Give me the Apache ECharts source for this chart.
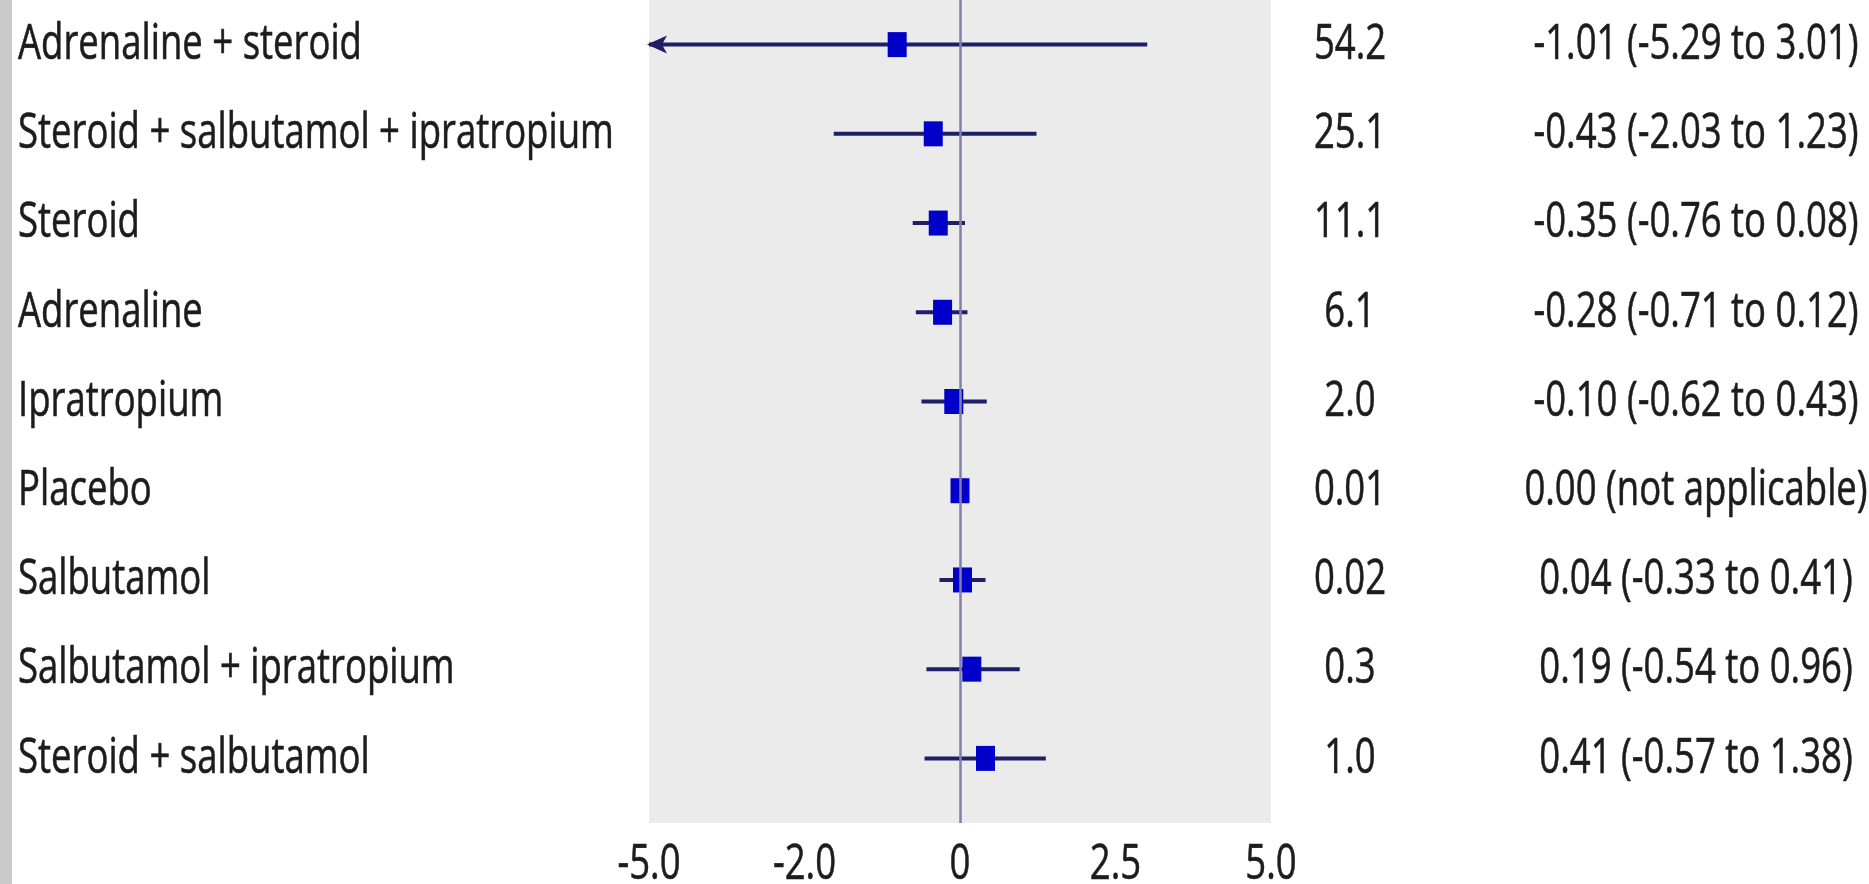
<!DOCTYPE html>
<html><head><meta charset="utf-8">
<script src="https://cdn.jsdelivr.net/npm/echarts@6/dist/echarts.min.js"></script>
<style>html,body{margin:0;padding:0;background:#fff}#c{width:1869px;height:884px}</style>
</head><body><div id="c"></div>
<script>
// ---- data ----
const categories = ['Adrenaline + steroid','Steroid + salbutamol + ipratropium','Steroid','Adrenaline','Ipratropium','Placebo','Salbutamol','Salbutamol + ipratropium','Steroid + salbutamol'];
const estimates = [-1.01, -0.43, -0.35, -0.28, -0.10, 0.00, 0.04, 0.19, 0.41];
const lowerCI = [-5.29, -2.03, -0.76, -0.71, -0.62, null, -0.33, -0.54, -0.57];
const upperCI = [3.01, 1.23, 0.08, 0.12, 0.43, null, 0.41, 0.96, 1.38];
const probabilities = ['54.2','25.1','11.1','6.1','2.0','0.01','0.02','0.3','1.0'];
const ciLabels = ['-1.01 (-5.29 to 3.01)','-0.43 (-2.03 to 1.23)','-0.35 (-0.76 to 0.08)','-0.28 (-0.71 to 0.12)','-0.10 (-0.62 to 0.43)','0.00 (not applicable)','0.04 (-0.33 to 0.41)','0.19 (-0.54 to 0.96)','0.41 (-0.57 to 1.38)'];
const xTickValues = [-5, -2.5, 0, 2.5, 5];
const xTickLabels = ['-5.0','-2.0','0','2.5','5.0'];
const X_MIN = -5, X_MAX = 5;

// ---- styling ----
const FONT = "'Open Sans', 'Noto Sans', sans-serif";
const FS = 50, SX = 0.73, TXT = '#1c1c1c';
const LINE = '#1f1f66', BOX = '#0000c8';
function textEl(x, y, str, align) {
  return {type:'text', x:x, y:y, scaleX:SX, scaleY:1,
    style:{text:str, fontFamily:FONT, fontSize:FS, fill:TXT, align:align, verticalAlign:'middle',
           stroke:TXT, lineWidth:0.6}};
}

const chart = echarts.init(document.getElementById('c'), null, {renderer:'canvas'});
const hiddenAxis = {axisLine:{show:false}, axisTick:{show:false}, axisLabel:{show:false}, splitLine:{show:false}};
chart.setOption({
  animation:false,
  backgroundColor:'#ffffff',
  graphic:[{type:'rect', left:0, top:0, shape:{width:12, height:884}, style:{fill:'#c9c9c9'}, z:-1}],
  grid:[
    {left:649, width:622, top:0, height:823, show:true, backgroundColor:'#ebebeb', borderWidth:0},
    {left:649, width:622, top:-3, height:806, show:false}
  ],
  xAxis:[
    Object.assign({gridIndex:0, type:'value', min:X_MIN, max:X_MAX, interval:2.5}, hiddenAxis),
    Object.assign({gridIndex:1, type:'value', min:X_MIN, max:X_MAX, interval:2.5}, hiddenAxis)
  ],
  yAxis:[
    Object.assign({gridIndex:0, type:'value', min:0, max:1}, hiddenAxis),
    Object.assign({gridIndex:1, type:'category', data:categories, inverse:true}, hiddenAxis)
  ],
  series:[
    { // x tick labels + zero reference line
      type:'custom', xAxisIndex:0, yAxisIndex:0, z:1, silent:true, clip:false,
      data: xTickValues.map((v,i)=>[v, 0, i]),
      encode:{x:0, y:1},
      renderItem:function(params, api){
        const p = api.coord([api.value(0), 0]);
        const cs = params.coordSys;
        return textEl(p[0], cs.y + cs.height + 42, xTickLabels[api.value(2)], 'center');
      },
      markLine:{symbol:'none', silent:true, label:{show:false}, animation:false,
        lineStyle:{color:'#7f7fa8', width:2.5, type:'solid', opacity:1}, data:[{xAxis:0}]}
    },
    { // confidence intervals and point estimates
      type:'custom', xAxisIndex:1, yAxisIndex:1, z:3, silent:true, clip:false,
      data: categories.map((c,i)=>[estimates[i], i, lowerCI[i]==null?'-':lowerCI[i], upperCI[i]==null?'-':upperCI[i]]),
      encode:{x:0, y:1},
      renderItem:function(params, api){
        const i = api.value(1);
        const est = api.value(0), lo = api.value(2), hi = api.value(3);
        const c = api.coord([est, i]);
        const y = c[1];
        const children = [];
        if (!isNaN(lo) && !isNaN(hi)) {
          const x1 = api.coord([Math.max(lo, X_MIN), i])[0];
          const x2 = api.coord([Math.min(hi, X_MAX), i])[0];
          children.push({type:'line', shape:{x1:x1, y1:y, x2:x2, y2:y}, style:{stroke:LINE, lineWidth:4}});
          if (lo < X_MIN) children.push({type:'polygon', shape:{points:[[x1-2,y],[x1+18,y-9],[x1+13,y],[x1+18,y+9]]}, style:{fill:LINE}});
          if (hi > X_MAX) children.push({type:'polygon', shape:{points:[[x2+2,y],[x2-18,y-9],[x2-13,y],[x2-18,y+9]]}, style:{fill:LINE}});
        }
        children.push({type:'rect', shape:{x:c[0]-9.5, y:y-12.5, width:19, height:25}, style:{fill:BOX}});
        return {type:'group', children:children};
      }
    },
    { // text columns
      type:'custom', xAxisIndex:1, yAxisIndex:1, z:4, silent:true, clip:false,
      data: categories.map((c,i)=>[0, i]),
      encode:{x:0, y:1},
      renderItem:function(params, api){
        const i = api.value(1);
        const y = api.coord([0, i])[1];
        const cs = params.coordSys;
        return {type:'group', children:[
          textEl(cs.x - 631, y, categories[i], 'left'),
          textEl(cs.x + cs.width + 79, y, probabilities[i], 'center'),
          textEl(cs.x + cs.width + 425, y, ciLabels[i], 'center')
        ]};
      }
    }
  ]
});
</script></body></html>
